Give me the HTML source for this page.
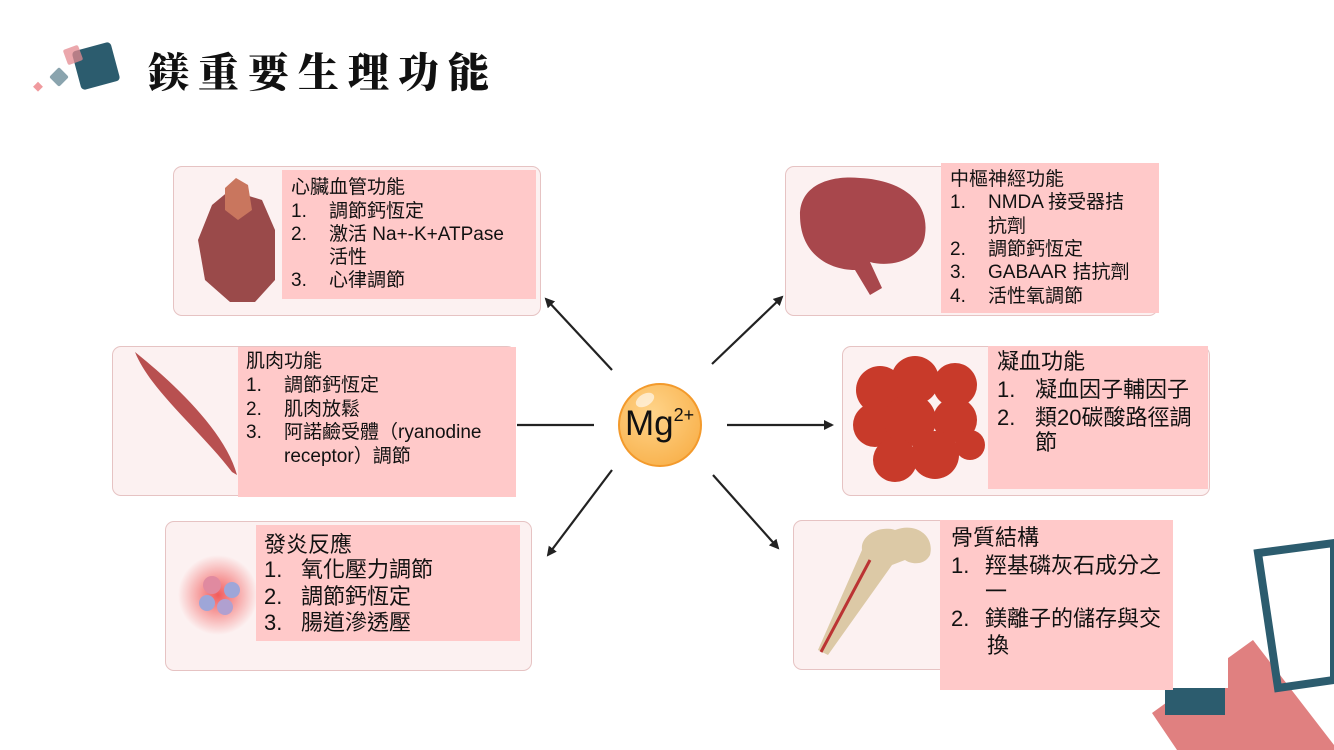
<!DOCTYPE html>
<html><head><meta charset="utf-8"><style>
*{margin:0;padding:0;box-sizing:border-box}
body{width:1334px;height:750px;position:relative;overflow:hidden;background:#fff;font-family:"Liberation Sans","Noto Sans CJK TC",sans-serif;color:#111}
.card{position:absolute;background:#fcf1f1;border:1.5px solid #e6c3c3;border-radius:9px}
.box{position:absolute;background:#ffc9c9}
.t{position:absolute;white-space:nowrap;line-height:1}
.s{font-size:19px}.b{font-size:22px}
svg{position:absolute;left:0;top:0}
</style></head><body>
<div class="card" style="left:173px;top:166px;width:368px;height:150px"></div>
<div class="card" style="left:112px;top:346px;width:404px;height:150px"></div>
<div class="card" style="left:165px;top:521px;width:367px;height:150px"></div>
<div class="card" style="left:785px;top:166px;width:373px;height:150px"></div>
<div class="card" style="left:842px;top:346px;width:368px;height:150px"></div>
<div class="card" style="left:793px;top:520px;width:380px;height:150px"></div>
<svg width="1334" height="750">
<defs><marker id="a" markerWidth="10" markerHeight="10" refX="8" refY="5" orient="auto" markerUnits="userSpaceOnUse"><path d="M0,0 L10,5 L0,10 Z" fill="#222"/></marker>
<radialGradient id="g" cx="40%" cy="35%" r="65%"><stop offset="0" stop-color="#ffd48a"/><stop offset="1" stop-color="#f9b451"/></radialGradient>
<radialGradient id="inf" cx="50%" cy="50%" r="50%"><stop offset="0" stop-color="#f04a4a" stop-opacity=".9"/><stop offset="1" stop-color="#f04a4a" stop-opacity="0"/></radialGradient></defs>
<rect x="76" y="46" width="40" height="40" rx="4" fill="#2c5c6e" transform="rotate(-15 96 66)"/>
<rect x="65" y="47" width="16" height="16" rx="2" fill="#e48a90" opacity=".75" transform="rotate(-20 73 55)"/>
<rect x="52" y="70" width="14" height="14" rx="2" fill="#8aa4ae" transform="rotate(45 59 77)"/>
<rect x="35" y="83" width="7" height="7" fill="#f09a9e" transform="rotate(45 38 86)"/>
<polygon points="1152,713 1253,640 1334,745 1334,750 1177,750" fill="#e08080"/>
<rect x="1140" y="600" width="88" height="88" fill="#fff"/>
<rect x="1165" y="688" width="60" height="27" fill="#2c5c6e"/>
<polygon points="1258,553 1334,543 1334,680 1278,688" fill="none" stroke="#2c5c6e" stroke-width="8"/>
<g stroke="#222" stroke-width="2.2" fill="none">
<line x1="612" y1="370" x2="546" y2="299" marker-end="url(#a)"/>
<line x1="712" y1="364" x2="782" y2="297" marker-end="url(#a)"/>
<line x1="517" y1="425" x2="594" y2="425"/>
<line x1="727" y1="425" x2="832" y2="425" marker-end="url(#a)"/>
<line x1="612" y1="470" x2="548" y2="555" marker-end="url(#a)"/>
<line x1="713" y1="475" x2="778" y2="548" marker-end="url(#a)"/>
</g>
<circle cx="660" cy="425" r="41" fill="url(#g)" stroke="#f39a2c" stroke-width="2"/>
<ellipse cx="645" cy="400" rx="10" ry="6" fill="#fff" opacity=".6" transform="rotate(-30 645 400)"/>
<path d="M212,205 L230,190 L262,200 L275,230 L275,280 L255,302 L230,302 L205,280 L198,240 Z" fill="#9a4a4a"/>
<path d="M225,188 L236,178 L248,185 L252,210 L238,220 L225,210 Z" fill="#c9765e"/>
<path d="M135,352 C170,380 225,430 237,475 L232,472 C200,430 150,390 135,352 Z" fill="#b85050"/>
<path d="M800,215 C800,185 830,175 860,178 C900,180 930,200 925,235 C922,260 890,268 870,262 L882,288 L870,295 L855,270 C830,270 800,255 800,215 Z" fill="#a8474c"/>
<circle cx="218" cy="595" r="40" fill="url(#inf)"/>
<circle cx="212" cy="585" r="9" fill="#e08aa0"/><circle cx="232" cy="590" r="8" fill="#9ea6d8"/><circle cx="207" cy="603" r="8" fill="#9ea6d8"/><circle cx="225" cy="607" r="8" fill="#b0a0d0"/>
<g fill="#c83a2a"><circle cx="880" cy="390" r="24"/><circle cx="915" cy="380" r="24"/><circle cx="955" cy="385" r="22"/><circle cx="875" cy="425" r="22"/><circle cx="910" cy="420" r="26"/><circle cx="955" cy="420" r="22"/><circle cx="895" cy="460" r="22"/><circle cx="935" cy="455" r="24"/><circle cx="970" cy="445" r="15"/></g>
<path d="M818,650 L862,550 C860,535 880,525 895,530 C915,522 935,535 930,555 C925,565 912,565 905,560 L892,565 L828,655 Z" fill="#dcc9a6"/>
<path d="M821,652 L870,560" stroke="#b33" stroke-width="3"/>
</svg>
<div class="t" style="left:148px;top:49px;font-size:41px;font-family:'Noto Serif CJK SC','Liberation Serif',serif;font-weight:900;letter-spacing:9px">鎂重要生理功能</div>
<div class="t" style="left:625px;top:406px;font-size:35px">Mg<sup style="font-size:18px;vertical-align:14px">2+</sup></div>

<div class="box" style="left:282px;top:170px;width:254px;height:129px"></div>
<div class="t s" style="left:291px;top:178px">心臟血管功能</div>
<div class="t s" style="left:291px;top:202px">1.</div><div class="t s" style="left:329px;top:202px">調節鈣恆定</div>
<div class="t s" style="left:291px;top:225px">2.</div><div class="t s" style="left:329px;top:225px">激活 Na+-K+ATPase</div>
<div class="t s" style="left:329px;top:248px">活性</div>
<div class="t s" style="left:291px;top:271px">3.</div><div class="t s" style="left:329px;top:271px">心律調節</div>

<div class="box" style="left:238px;top:347px;width:278px;height:150px"></div>
<div class="t s" style="left:246px;top:352px">肌肉功能</div>
<div class="t s" style="left:246px;top:376px">1.</div><div class="t s" style="left:284px;top:376px">調節鈣恆定</div>
<div class="t s" style="left:246px;top:400px">2.</div><div class="t s" style="left:284px;top:400px">肌肉放鬆</div>
<div class="t s" style="left:246px;top:423px">3.</div><div class="t s" style="left:284px;top:423px">阿諾鹼受體（ryanodine</div>
<div class="t s" style="left:284px;top:447px">receptor）調節</div>

<div class="box" style="left:256px;top:525px;width:264px;height:116px"></div>
<div class="t b" style="left:264px;top:534px">發炎反應</div>
<div class="t b" style="left:264px;top:559px">1.</div><div class="t b" style="left:301px;top:559px">氧化壓力調節</div>
<div class="t b" style="left:264px;top:586px">2.</div><div class="t b" style="left:301px;top:586px">調節鈣恆定</div>
<div class="t b" style="left:264px;top:612px">3.</div><div class="t b" style="left:301px;top:612px">腸道滲透壓</div>

<div class="box" style="left:941px;top:163px;width:218px;height:150px"></div>
<div class="t s" style="left:950px;top:170px">中樞神經功能</div>
<div class="t s" style="left:950px;top:193px">1.</div><div class="t s" style="left:988px;top:193px">NMDA 接受器拮</div>
<div class="t s" style="left:988px;top:217px">抗劑</div>
<div class="t s" style="left:950px;top:240px">2.</div><div class="t s" style="left:988px;top:240px">調節鈣恆定</div>
<div class="t s" style="left:950px;top:263px">3.</div><div class="t s" style="left:988px;top:263px">GABAAR 拮抗劑</div>
<div class="t s" style="left:950px;top:287px">4.</div><div class="t s" style="left:988px;top:287px">活性氧調節</div>

<div class="box" style="left:988px;top:346px;width:220px;height:143px"></div>
<div class="t b" style="left:997px;top:351px">凝血功能</div>
<div class="t b" style="left:997px;top:379px">1.</div><div class="t b" style="left:1035px;top:379px">凝血因子輔因子</div>
<div class="t b" style="left:997px;top:407px">2.</div><div class="t b" style="left:1035px;top:407px">類20碳酸路徑調</div>
<div class="t b" style="left:1035px;top:432px">節</div>

<div class="box" style="left:940px;top:520px;width:233px;height:170px"></div>
<div class="t b" style="left:951px;top:527px">骨質結構</div>
<div class="t b" style="left:951px;top:555px">1.</div><div class="t b" style="left:985px;top:555px">羥基磷灰石成分之</div>
<div class="t b" style="left:985px;top:581px">一</div>
<div class="t b" style="left:951px;top:608px">2.</div><div class="t b" style="left:985px;top:608px">鎂離子的儲存與交</div>
<div class="t b" style="left:987px;top:635px">換</div>
</body></html>
